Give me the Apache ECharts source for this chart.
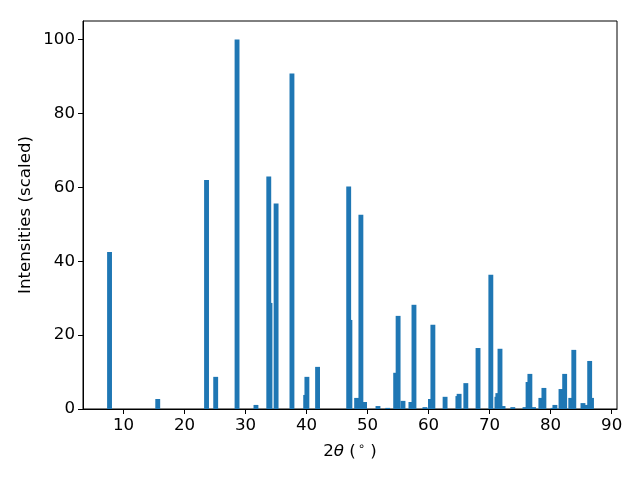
<!DOCTYPE html>
<html>
<head>
<meta charset="utf-8">
<script src="https://cdn.jsdelivr.net/npm/echarts@6/dist/echarts.min.js"></script>
<style>html,body{margin:0;padding:0;background:#fff;}#c{width:640px;height:480px;}</style>
</head>
<body>
<div id="c"></div>
<script>
const twoTheta = [7.7, 15.6, 23.6, 25.1, 28.6, 31.7, 33.8, 34.0, 35.0, 37.6, 39.85, 40.05, 41.8,
  46.9, 47.1, 48.2, 48.9, 49.5, 51.7, 53.3, 54.6, 55.0, 55.8, 57.1, 57.6, 59.4, 60.3, 60.7,
  62.7, 64.8, 65.0, 66.1, 68.1, 70.2, 71.2, 71.35, 71.7, 72.2, 73.8, 75.8, 76.3, 76.6, 77.2,
  78.4, 78.9, 80.4, 80.7, 81.7, 82.3, 83.3, 83.8, 85.3, 86.0, 86.4, 86.7];
const intensity = [42.5, 2.7, 62.0, 8.7, 100, 1.1, 62.9, 28.7, 55.6, 90.8, 3.8, 8.7, 11.4,
  60.2, 24.1, 3.0, 52.6, 1.9, 0.8, 0.3, 9.8, 25.2, 2.2, 1.9, 28.2, 0.5, 2.7, 22.8,
  3.3, 3.5, 4.1, 7.0, 16.5, 36.3, 3.3, 4.3, 16.3, 0.8, 0.5, 0.5, 7.3, 9.5, 0.5,
  3.0, 5.7, 0.3, 1.1, 5.4, 9.5, 3.0, 16.0, 1.6, 1.1, 13.0, 3.0];
const xTicks = [10, 20, 30, 40, 50, 60, 70, 80, 90];
const yTicks = [0, 20, 40, 60, 80, 100];
const barWidth = 0.8;

const data = twoTheta.map((t, i) => [t, intensity[i]]);
const font = 'DejaVu Sans';
const fs = 16.67;
const chart = echarts.init(document.getElementById('c'), null, {renderer: 'canvas'});
chart.setOption({
  animation: false,
  backgroundColor: '#fff',
  grid: {left: 83, right: 23, top: 21, bottom: 71, show: true, borderColor: '#000', borderWidth: 1, backgroundColor: 'transparent'},
  xAxis: {
    type: 'value', min: 3.35, max: 90.88,
    name: '2{i|θ} ({s|∘} )', nameLocation: 'middle', nameGap: 43, nameMoveOverlap: false,
    nameTextStyle: {fontFamily: font, fontSize: fs, color: '#000', verticalAlign: 'middle',
      rich: {
        i: {fontFamily: font, fontSize: fs, fontStyle: 'italic', color: '#000'},
        s: {fontFamily: font, fontSize: 11.5, color: '#000', padding: [0, 0, 9, 2]}
      }},
    axisLine: {show: true, onZero: false, lineStyle: {color: '#000', width: 1}},
    axisTick: {show: true, length: 5, inside: false, customValues: xTicks, lineStyle: {color: '#000'}},
    axisLabel: {customValues: xTicks, margin: 8, fontFamily: font, fontSize: fs, color: '#000'},
    splitLine: {show: false}
  },
  yAxis: {
    type: 'value', min: 0, max: 105,
    name: 'Intensities (scaled)', nameLocation: 'middle', nameGap: 57, nameMoveOverlap: false,
    nameTextStyle: {fontFamily: font, fontSize: fs, color: '#000', verticalAlign: 'middle'},
    axisLine: {show: true, lineStyle: {color: '#000', width: 1}},
    axisTick: {show: true, length: 5, customValues: yTicks, lineStyle: {color: '#000'}},
    axisLabel: {customValues: yTicks, margin: 8, fontFamily: font, fontSize: fs, color: '#000'},
    splitLine: {show: false}
  },
  series: [{
    type: 'custom',
    data: data,
    clip: true,
    renderItem: function (params, api) {
      const x = api.value(0), y = api.value(1);
      const p1 = api.coord([x - barWidth / 2, y]);
      const p2 = api.coord([x + barWidth / 2, 0]);
      return {
        type: 'rect',
        shape: {x: p1[0], y: p1[1], width: p2[0] - p1[0], height: p2[1] - p1[1]},
        style: {fill: '#1f77b4'}
      };
    }
  }]
});
</script>
</body>
</html>
